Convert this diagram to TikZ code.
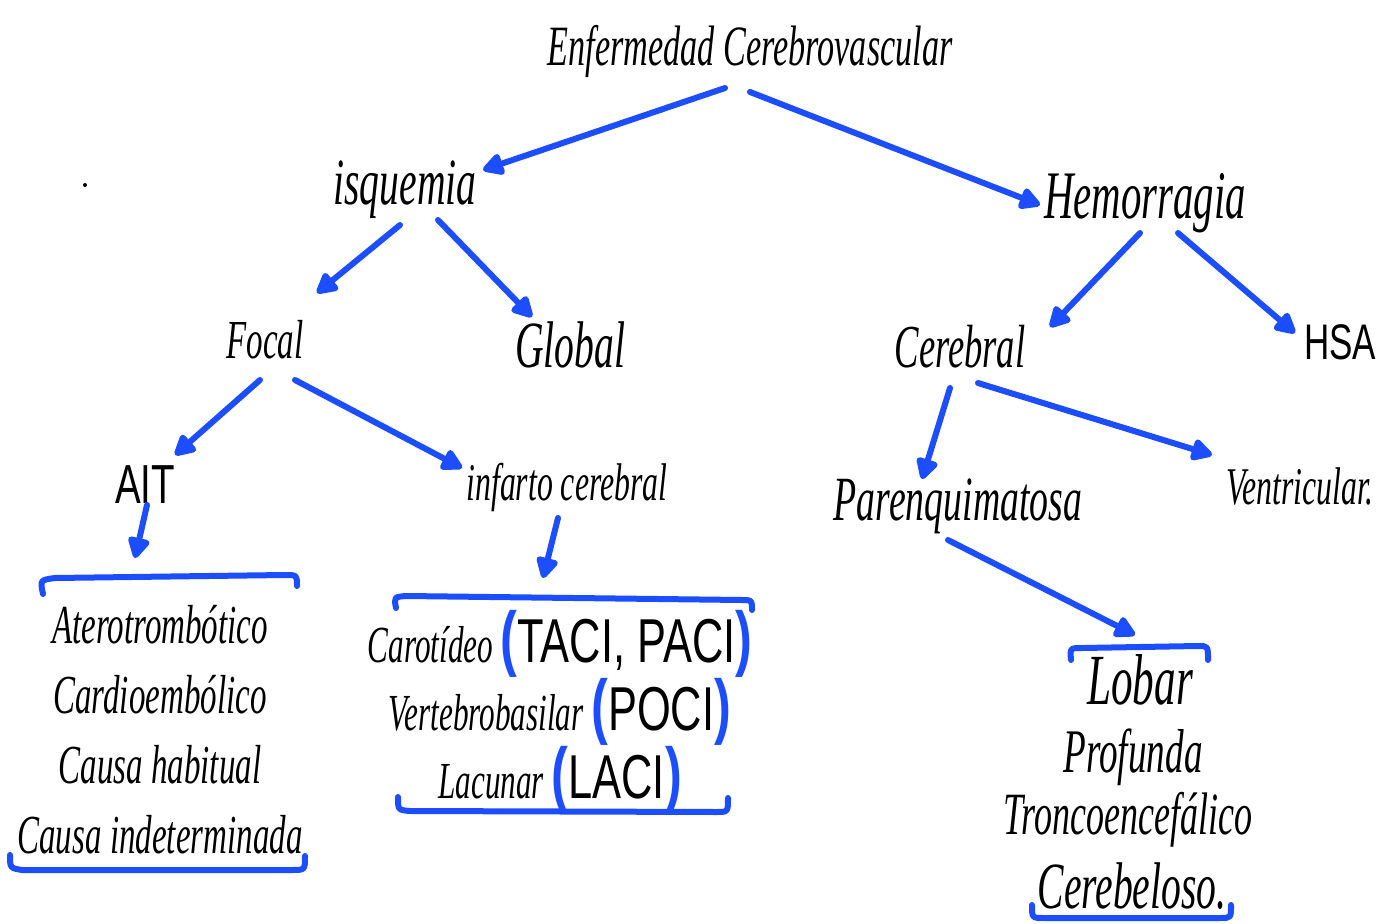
\documentclass[tikz,border=0pt]{standalone}
\usepackage{fontspec}
\usetikzlibrary{arrows.meta}
\newfontfamily\hand{Liberation Serif}[FakeStretch=0.6]
\newfontfamily\print{Liberation Sans}[FakeStretch=0.7]
\definecolor{pen}{RGB}{28,78,255}
\newcommand\fs[1]{\fontsize{#1}{1.2\dimexpr#1pt\relax}\selectfont}
\newcommand\capt[1]{{\print\upshape\fs{62}#1}}
\newcommand\bpl{{\color{pen}\print\upshape\bfseries\fs{72}(}}
\newcommand\bpr{{\color{pen}\print\upshape\bfseries\fs{72})}}
\tikzset{
  hw/.style={font=\hand\itshape, inner sep=0pt},
  arr/.style={draw=pen, line width=6pt, line cap=round,
    -{Triangle[length=24pt,width=24pt,round]}},
  brk/.style={draw=pen, line width=6pt, line cap=round, line join=round},
}
\begin{document}
\begin{tikzpicture}[x=1pt,y=-1pt]
\useasboundingbox (0,0) rectangle (1399,923);
% text nodes
\node[hw, font=\hand\itshape\fs{57}] (T) at (750,52) {Enfermedad Cerebrovascular};
\node[hw, font=\hand\itshape\fs{66}] (I) at (405,190) {isquemia};
\node[hw, font=\hand\itshape\fs{68}] (H) at (1145,203) {Hemorragia};
\node[hw, font=\hand\itshape\fs{55}] (Fo) at (265,340) {Focal};
\node[hw, font=\hand\itshape\fs{66}] (G) at (570,345) {Global};
\node[hw, font=\hand\itshape\fs{61}] (C) at (960,347) {Cerebral};
\node[inner sep=0pt, font=\print\fs{50}] (S) at (1340,342) {HSA};
\node[inner sep=0pt, font=\print\fs{55}] (A) at (145,485) {AIT};
\node[hw, font=\hand\itshape\fs{53}] (In) at (567,487) {infarto cerebral};
\node[hw, font=\hand\itshape\fs{63}] (P) at (958,506) {Parenquimatosa};
\node[hw, font=\hand\itshape\fs{53}] (V) at (1300,487) {Ventricular.};
\node[hw, align=center, font=\hand\itshape\fontsize{55}{70}\selectfont] (L1) at (160,730)
  {Aterotrombótico\\Cardioembólico\\Causa habitual\\Causa indeterminada};
\node[hw, align=center, font=\hand\itshape\fontsize{52}{68}\selectfont] (L2) at (560,712)
  {Carotídeo \bpl\capt{TACI, PACI}\bpr\\Vertebrobasilar \bpl\capt{POCI}\bpr\\Lacunar \bpl\capt{LACI}\bpr};
\node[hw, anchor=base, font=\hand\itshape\fs{72}] (L3) at (1140,704) {Lobar};
\node[hw, anchor=base, font=\hand\itshape\fs{62}] (L3b) at (1133,772) {Profunda};
\node[hw, anchor=base, font=\hand\itshape\fs{60}] (L3c) at (1128,834) {Troncoencefálico};
\node[hw, anchor=base, font=\hand\itshape\fs{66}] (L3d) at (1132,908) {Cerebeloso.};
% stray dot
\fill (85,185) circle (2);
% arrows
\draw[arr] ([shift={(-25,36)}]T.center) -- ([shift={(78,-20)}]I.center);
\draw[arr] ([shift={(0,40)}]T.center) -- ([shift={(-105,2)}]H.center);
\draw[arr] ([shift={(-5,35)}]I.center) -- ([shift={(52,-47)}]Fo.center);
\draw[arr] ([shift={(33,30)}]I.center) -- ([shift={(-38,-28)}]G.center);
\draw[arr] ([shift={(-5,30)}]H.center) -- ([shift={(90,-20)}]C.center);
\draw[arr] ([shift={(33,30)}]H.center) -- ([shift={(-45,-9)}]S.center);
\draw[arr] ([shift={(-5,40)}]Fo.center) -- ([shift={(30,-30)}]A.center);
\draw[arr] ([shift={(30,40)}]Fo.center) -- ([shift={(-105,-19)}]In.center);
\draw[arr] ([shift={(2,20)}]A.center) -- ([shift={(-25,-172)}]L1.center);
\draw[arr] ([shift={(-9,31)}]In.center) -- ([shift={(-17,-134)}]L2.center);
\draw[arr] ([shift={(-10,41)}]C.center) -- ([shift={(-36,-27)}]P.center);
\draw[arr] ([shift={(18,36)}]C.center) -- ([shift={(-88,-32)}]V.center);
\draw[arr] ([shift={(-10,34)}]P.center) -- ([shift={(-5,-69)}]L3.base);
% brackets
\draw[brk] (43,594) .. controls (40,580) .. (55,578) -- (285,575) .. controls (297,575) .. (297,586);
\draw[brk] (10,855) .. controls (10,868) .. (22,870) -- (292,870) .. controls (305,870) .. (305,856);
\draw[brk] (396,608) .. controls (394,597) .. (406,596) -- (742,600) .. controls (752,600) .. (752,610);
\draw[brk] (398,797) .. controls (398,810) .. (410,811) -- (716,812) .. controls (728,812) .. (728,798);
\draw[brk] (1071,660) .. controls (1070,648) .. (1082,648) -- (1198,646) .. controls (1208,646) .. (1208,660);
\draw[brk] (1032,905) .. controls (1032,918) .. (1044,918) -- (1220,918) .. controls (1231,918) .. (1231,905);
\end{tikzpicture}
\end{document}
